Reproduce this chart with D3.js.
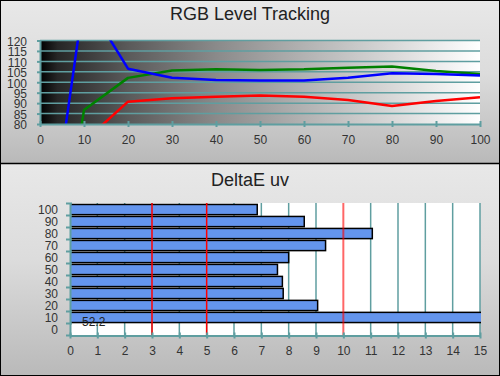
<!DOCTYPE html>
<html>
<head>
<meta charset="utf-8">
<script src="https://cdn.jsdelivr.net/npm/d3@7"></script>
<style>
  html, body { margin: 0; padding: 0; background: #fff; }
  svg { display: block; font-family: "Liberation Sans", Arial, sans-serif; }
</style>
</head>
<body>
<svg id="chart" width="500" height="376"></svg>
<script>
// ── Data ─────────────────────────────────
const levels = [5, 10, 20, 30, 40, 50, 60, 70, 80, 90, 100];
const redVals = [40, 71.6, 90.7, 92.3, 93.1, 93.6, 93.1, 91.5, 88.6, 91.0, 92.8];
const greenVals = [19.7, 86.7, 102.1, 105.6, 106.2, 105.9, 106.2, 107.0, 107.5, 105.4, 104.0];
const blueVals = [66.7, 140.7, 106.5, 102.2, 101.1, 100.8, 100.8, 102.2, 104.3, 104.0, 103.2];
const rgbXTicks = [0, 10, 20, 30, 40, 50, 60, 70, 80, 90, 100];
const rgbYTicks = [80, 85, 90, 95, 100, 105, 110, 115, 120];

const grayLevels = [100, 90, 80, 70, 60, 50, 40, 30, 20, 10, 0];
const deltaE = [6.85, 8.57, 11.06, 9.35, 8.0, 7.59, 7.77, 7.8, 9.06, 52.2, null];
const deXTicks = d3.range(0, 16);
const thresholds = [3, 5, 10];

const teal = '#5f9ea0';
const svg = d3.select('#chart');
const defs = svg.append('defs');

// ── Panels ───────────────────────────────
const pg = defs.append('linearGradient').attr('id', 'panelGrad')
  .attr('x1', 0).attr('y1', 0).attr('x2', 0).attr('y2', 1);
pg.append('stop').attr('offset', 0).attr('stop-color', '#e8e8e8');
pg.append('stop').attr('offset', 0.45).attr('stop-color', '#dcdcdc');
pg.append('stop').attr('offset', 1).attr('stop-color', '#b9b9b9');

svg.append('rect').attr('x', 0).attr('y', 0).attr('width', 500).attr('height', 163)
  .attr('fill', 'url(#panelGrad)');
svg.append('rect').attr('x', 0).attr('y', 164).attr('width', 500).attr('height', 212)
  .attr('fill', 'url(#panelGrad)');
svg.append('line').attr('x1', 0).attr('x2', 500).attr('y1', 163.5).attr('y2', 163.5)
  .attr('stroke', '#000').attr('stroke-width', 1.5);
svg.append('rect').attr('x', 0.5).attr('y', 0.5).attr('width', 499).attr('height', 375)
  .attr('fill', 'none').attr('stroke', '#000').attr('stroke-width', 1);

// ── RGB Level Tracking ───────────────────
svg.append('text').attr('x', 250).attr('y', 20).attr('text-anchor', 'middle')
  .attr('font-size', 18).attr('fill', '#222').text('RGB Level Tracking');

const x1 = d3.scaleLinear().domain([0, 100]).range([40, 480]);
const y1 = d3.scaleLinear().domain([80, 120]).range([124, 40.5]);

const bg = defs.append('linearGradient').attr('id', 'plotGrad');
[[0, '#000'], [0.04, '#262626'], [0.2, '#5a5a5a'], [0.4, '#8a8a8a'],
 [0.6, '#b2b2b2'], [0.8, '#d8d8d8'], [1, '#ffffff']].forEach(s =>
  bg.append('stop').attr('offset', s[0]).attr('stop-color', s[1]));

defs.append('clipPath').attr('id', 'clipTop').append('rect')
  .attr('x', x1(0)).attr('y', y1(120)).attr('width', x1(100) - x1(0)).attr('height', y1(80) - y1(120));

svg.append('rect').attr('x', x1(0)).attr('y', y1(120))
  .attr('width', x1(100) - x1(0)).attr('height', y1(80) - y1(120))
  .attr('fill', 'url(#plotGrad)');

svg.append('g').selectAll('line').data(rgbYTicks.slice(1)).join('line')
  .attr('x1', x1(0)).attr('x2', x1(100)).attr('y1', d => y1(d)).attr('y2', d => y1(d))
  .attr('stroke', teal).attr('stroke-width', 1.5);

const series = [
  { vals: redVals, color: '#ff0000' },
  { vals: greenVals, color: '#008000' },
  { vals: blueVals, color: '#0000ff' }
];
const line = d3.line().x((d, i) => x1(levels[i])).y(d => y1(d));
svg.append('g').attr('clip-path', 'url(#clipTop)').selectAll('path').data(series).join('path')
  .attr('d', s => line(s.vals)).attr('fill', 'none')
  .attr('stroke', s => s.color).attr('stroke-width', 2.5).attr('stroke-linejoin', 'round');

const ax1 = svg.append('g').attr('transform', `translate(0,${y1(80)})`)
  .call(d3.axisBottom(x1).tickValues(rgbXTicks).tickSize(3).tickSizeOuter(0).tickPadding(8));
ax1.selectAll('.tick line').attr('y1', -3);
const ay1 = svg.append('g').attr('transform', `translate(${x1(0)},0)`)
  .call(d3.axisLeft(y1).tickValues(rgbYTicks).tickSize(3).tickSizeOuter(0).tickPadding(10));
ay1.selectAll('.tick text').attr('dy', '0.4em');

[ax1, ay1].forEach(a => {
  a.select('.domain').attr('stroke', teal).attr('stroke-width', 2);
  a.selectAll('.tick line').attr('stroke', teal).attr('stroke-width', 2);
  a.selectAll('.tick text').attr('fill', '#333').attr('font-size', 12)
    .attr('font-family', '"Liberation Sans", Arial, sans-serif');
});

// ── DeltaE uv ────────────────────────────
svg.append('text').attr('x', 250).attr('y', 186).attr('text-anchor', 'middle')
  .attr('font-size', 18).attr('fill', '#222').text('DeltaE uv');

const x2 = d3.scaleLinear().domain([0, 15]).range([70, 480]);
const y2 = d3.scaleBand().domain(grayLevels).range([203.5, 335.5]).paddingInner(0.15).paddingOuter(0.08);

defs.append('clipPath').attr('id', 'clipBot').append('rect')
  .attr('x', x2(0)).attr('y', 203).attr('width', x2(15) - x2(0) + 1).attr('height', 133);

svg.append('rect').attr('x', x2(0)).attr('y', 203)
  .attr('width', x2(15) - x2(0)).attr('height', 336 - 203).attr('fill', '#fff');

svg.append('g').selectAll('line').data(deXTicks.slice(1).filter(d => d !== 10)).join('line')
  .attr('x1', d => x2(d)).attr('x2', d => x2(d)).attr('y1', 203).attr('y2', 335.5)
  .attr('stroke', teal).attr('stroke-width', 1.5);

const bars = grayLevels.map((g, i) => ({ g, v: deltaE[i] })).filter(d => d.v != null);
svg.append('g').attr('clip-path', 'url(#clipBot)').selectAll('rect').data(bars).join('rect')
  .attr('x', x2(0)).attr('y', d => y2(d.g))
  .attr('width', d => x2(Math.min(d.v, 15.2)) - x2(0)).attr('height', y2.bandwidth())
  .attr('fill', '#6495ed').attr('stroke', '#000').attr('stroke-width', 1.5);

svg.append('g').selectAll('line').data(thresholds).join('line')
  .attr('x1', d => x2(d)).attr('x2', d => x2(d)).attr('y1', 203).attr('y2', 335.5)
  .attr('stroke', '#ff0000')
  .attr('stroke-width', d => d === 10 ? 2 : 1.5)
  .attr('stroke-opacity', d => d === 10 ? 0.6 : 1);

// value label for bars beyond the axis
svg.append('g').selectAll('text').data(bars.filter(d => d.v > 15)).join('text')
  .attr('x', x2(0) + 12).attr('y', d => y2(d.g) + y2.bandwidth() + 3)
  .attr('font-size', 12).attr('fill', '#222').text(d => d.v);

const ax2 = svg.append('g').attr('transform', 'translate(0,335.5)')
  .call(d3.axisBottom(x2).tickValues(deXTicks).tickSize(3).tickSizeOuter(0).tickPadding(8));
ax2.selectAll('.tick line').attr('y1', -3);

const ay2 = svg.append('g').attr('transform', `translate(${x2(0)},0)`)
  .call(d3.axisLeft(y2).tickSize(0).tickSizeOuter(0).tickPadding(12));
ay2.selectAll('.tick text').attr('dy', '0.4em');
// band boundary ticks
const bounds = d3.range(grayLevels.length + 1).map(i => 203.5 + i * 12);
ay2.selectAll('.bnd').data(bounds).join('line').attr('class', 'bnd')
  .attr('x1', -4).attr('x2', 2).attr('y1', d => d).attr('y2', d => d)
  .attr('stroke', teal).attr('stroke-width', 2);

[ax2, ay2].forEach(a => {
  a.select('.domain').attr('stroke', teal).attr('stroke-width', 2);
  a.selectAll('.tick line').attr('stroke', teal).attr('stroke-width', 2);
  a.selectAll('.tick text').attr('fill', '#333').attr('font-size', 12)
    .attr('font-family', '"Liberation Sans", Arial, sans-serif');
});
</script>
</body>
</html>
